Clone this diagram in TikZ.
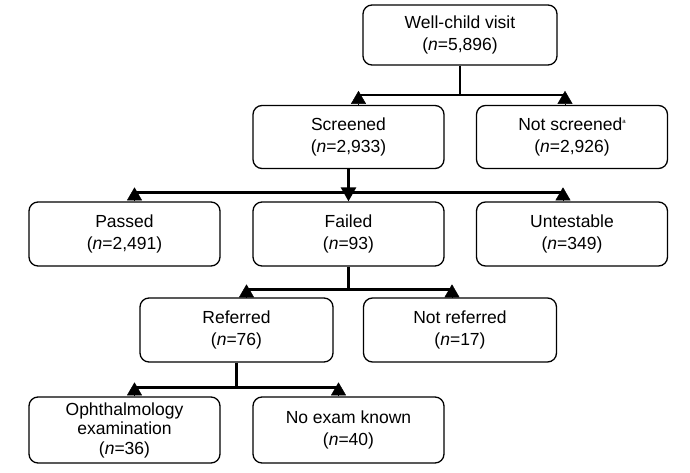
\documentclass[tikz,border=0pt]{standalone}
\usepackage{fontspec}
\setmainfont{Liberation Sans}
\usetikzlibrary{arrows.meta,calc}
\begin{document}
\begin{tikzpicture}[x=1pt,y=-1pt,
  box/.style={draw,line width=1.3pt,rounded corners=9pt,minimum width=191pt,minimum height=63pt,
    align=center,inner sep=0pt,font=\fontsize{17.5}{22}\selectfont},
  conn/.style={line width=2.6pt},
  uptri/.style={line width=0.4pt,-{Triangle[length=13pt,width=15pt]}},
  downtri/.style={line width=2.6pt,-{Triangle[length=14pt,width=15pt]}},
]
\useasboundingbox[fill=white] (0,0) rectangle (690,473);

\node[box,minimum width=194pt,minimum height=60pt] (wc) at (460,35) {Well-child visit\\(\textit{n}=5,896)};
\node[box] (scr) at (348.5,137) {Screened\\(\textit{n}=2,933)};
\node[box] (nscr) at (572,137) {Not screened\raisebox{7pt}{\fontsize{6}{6}\selectfont a}\\(\textit{n}=2,926)};
\node[box,minimum height=64pt] (pass) at (124.5,234) {Passed\\(\textit{n}=2,491)};
\node[box,minimum height=64pt] (fail) at (348.5,234) {Failed\\(\textit{n}=93)};
\node[box,minimum height=64pt] (unt) at (572,234) {Untestable\\(\textit{n}=349)};
\node[box,minimum width=193pt,minimum height=64pt] (ref) at (236.5,330) {Referred\\(\textit{n}=76)};
\node[box,minimum width=193pt,minimum height=64pt] (nref) at (460,330) {Not referred\\(\textit{n}=17)};
\node[box,minimum height=66pt,font=\fontsize{17.5}{19.5}\selectfont] (oph) at (124.5,430) {Ophthalmology\\examination\\(\textit{n}=36)};
\node[box,minimum height=66pt] (nex) at (348.5,430) {No exam known\\(\textit{n}=40)};

% level 1
\coordinate (l1l) at ($(scr.north)+(10,-10)$);
\coordinate (l1r) at ($(nscr.north)+(-7,-10)$);
\draw[conn] (wc.south) -- (wc.south |- l1l);
\draw[conn] (l1l) -- (l1r);
\draw[uptri] ($(scr.north)+(10,0)$) -- ($(scr.north)+(10,-14)$);
\draw[uptri] ($(nscr.north)+(-7,0)$) -- ($(nscr.north)+(-7,-14)$);

% level 2
\coordinate (l2l) at ($(pass.north)+(10,-9)$);
\coordinate (l2r) at ($(unt.north)+(-9,-9)$);
\draw[conn] (l2l) -- (l2r);
\draw[downtri] (scr.south) -- (fail.north);
\draw[uptri] ($(pass.north)+(10,0)$) -- ($(pass.north)+(10,-14)$);
\draw[uptri] ($(unt.north)+(-9,0)$) -- ($(unt.north)+(-9,-14)$);

% level 3
\coordinate (l3l) at ($(ref.north)+(10,-8)$);
\coordinate (l3r) at ($(nref.north)+(-8,-8)$);
\draw[conn] (fail.south) -- (fail.south |- l3l);
\draw[conn] (l3l) -- (l3r);
\draw[uptri] ($(ref.north)+(10,0)$) -- ($(ref.north)+(10,-13)$);
\draw[uptri] ($(nref.north)+(-8,0)$) -- ($(nref.north)+(-8,-13)$);

% level 4
\coordinate (l4l) at ($(oph.north)+(10,-9)$);
\coordinate (l4r) at ($(nex.north)+(-10,-9)$);
\draw[conn] (ref.south) -- (ref.south |- l4l);
\draw[conn] (l4l) -- (l4r);
\draw[uptri] ($(oph.north)+(10,0)$) -- ($(oph.north)+(10,-14)$);
\draw[uptri] ($(nex.north)+(-10,0)$) -- ($(nex.north)+(-10,-14)$);
\end{tikzpicture}
\end{document}
